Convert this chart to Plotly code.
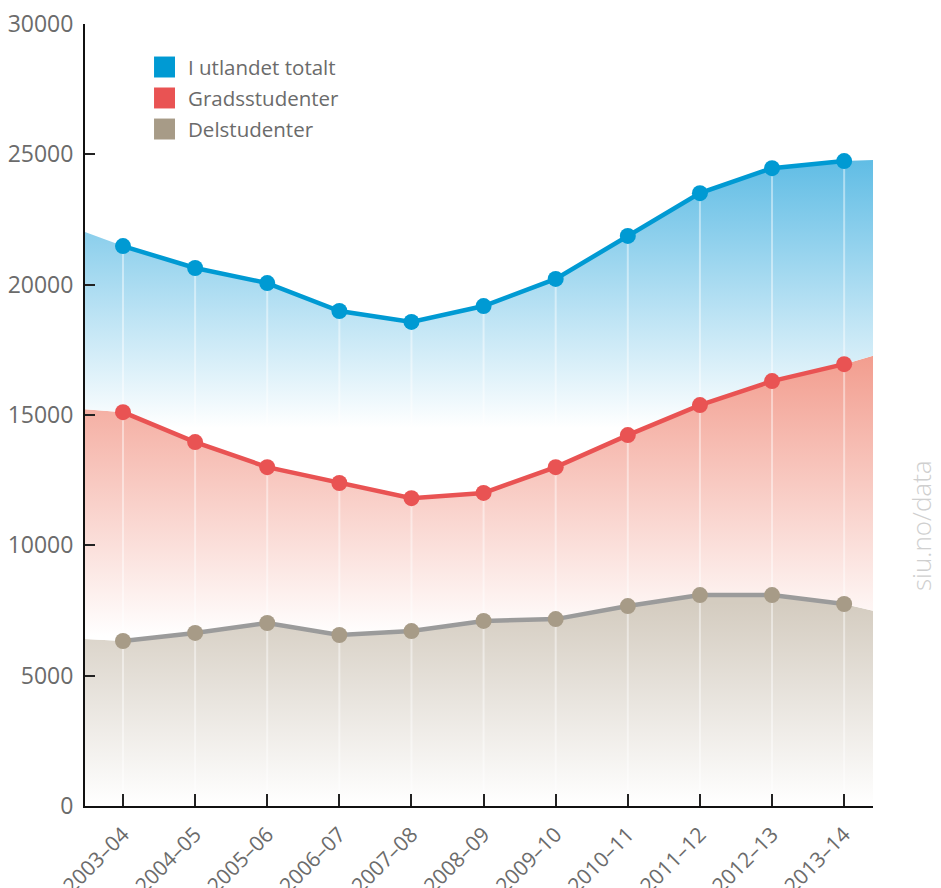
import plotly.graph_objects as go

# ---- data ----
categories = ["2003–04", "2004–05", "2005–06", "2006–07", "2007–08", "2008–09",
              "2009–10", "2010–11", "2011–12", "2012–13", "2013–14"]
utlandet_totalt = [21480, 20640, 20060, 18990, 18570, 19180, 20220, 21870, 23510, 24470, 24740]
gradsstudenter = [15110, 13960, 13000, 12390, 11810, 12010, 13000, 14230, 15380, 16300, 16950]
delstudenter = [6330, 6640, 7020, 6560, 6710, 7100, 7170, 7670, 8090, 8090, 7750]
# values of the shaded areas where they meet the left and right edges of the plot
area_edges_totalt = [22020, 24780]
area_edges_grad = [15220, 17270]
area_edges_del = [6410, 7490]
y_ticks = [0, 5000, 10000, 15000, 20000, 25000, 30000]
series_names = ["I utlandet totalt", "Gradsstudenter", "Delstudenter"]

# ---- style ----
BLUE = "#009ad3"
RED = "#e95353"
TAN = "#a79b87"
GREY_LINE = "#9b9b9b"
TEXT = "#6b6b6b"
FONT = "Open Sans"

X_LEFT, X_RIGHT = -0.527, 10.40
xs = list(range(len(categories)))
x_area = [X_LEFT] + xs + [X_RIGHT]

def area(vals, edges):
    return [edges[0]] + list(vals) + [edges[1]]

fig = go.Figure()

fig.add_trace(go.Scatter(
    x=x_area, y=area(delstudenter, area_edges_del), mode="lines",
    line=dict(width=0), fill="tozeroy",
    fillgradient=dict(type="vertical", start=0, stop=7800,
                      colorscale=[[0, "rgba(255,255,255,1)"], [1, "#d4ccc0"]]),
    hoverinfo="skip", showlegend=False))
fig.add_trace(go.Scatter(
    x=x_area, y=area(gradsstudenter, area_edges_grad), mode="lines",
    line=dict(width=0), fill="tonexty",
    fillgradient=dict(type="vertical", start=6500, stop=17500,
                      colorscale=[[0, "rgba(255,255,255,1)"], [1, "#f29b8c"]]),
    hoverinfo="skip", showlegend=False))
fig.add_trace(go.Scatter(
    x=x_area, y=area(utlandet_totalt, area_edges_totalt), mode="lines",
    line=dict(width=0), fill="tonexty",
    fillgradient=dict(type="vertical", start=14500, stop=25500,
                      colorscale=[[0, "rgba(255,255,255,1)"], [1, "#55b8e3"]]),
    hoverinfo="skip", showlegend=False))

# faint vertical guide lines under each top point
vx, vy = [], []
for i, v in enumerate(utlandet_totalt):
    vx += [i, i, None]
    vy += [0, v, None]
fig.add_trace(go.Scatter(x=vx, y=vy, mode="lines",
                         line=dict(color="rgba(255,255,255,0.45)", width=2),
                         hoverinfo="skip", showlegend=False))

for vals, lc, mc, name in [(delstudenter, GREY_LINE, TAN, series_names[2]),
                           (gradsstudenter, RED, RED, series_names[1]),
                           (utlandet_totalt, BLUE, BLUE, series_names[0])]:
    fig.add_trace(go.Scatter(
        x=xs, y=vals, mode="lines+markers", name=name,
        line=dict(color=lc, width=4.5),
        marker=dict(color=mc, size=16),
        showlegend=False))

# manual legend (squares + text)
leg_colors = [BLUE, RED, TAN]
leg_y = [0.945, 0.9054, 0.8657]
for c, yv, name in zip(leg_colors, leg_y, series_names):
    fig.add_shape(type="rect", xref="paper", yref="paper",
                  x0=0.0876, x1=0.1142, y0=yv - 0.0134, y1=yv + 0.0134,
                  fillcolor=c, line=dict(width=0))
    fig.add_annotation(xref="paper", yref="paper", x=0.1285, y=yv,
                       text=name, showarrow=False, xanchor="left", yanchor="middle",
                       font=dict(family=FONT, size=20.5, color=TEXT))

fig.add_annotation(xref="paper", yref="paper", x=1.061, y=0.358,
                   text="siu.no/data", showarrow=False, textangle=-90,
                   xanchor="center", yanchor="middle",
                   font=dict(family=FONT, size=26, color="#cfcfcf", weight=300))

# the page body adds an 8px offset, so the figure is sized to the visible area
fig.update_layout(
    width=933, height=880, autosize=False,
    margin=dict(l=77, r=68, t=16, b=82, autoexpand=False),
    plot_bgcolor="white", paper_bgcolor="white",
    font=dict(family=FONT, color=TEXT),
    xaxis=dict(range=[X_LEFT, X_RIGHT], tickmode="array", tickvals=xs,
               ticktext=categories, tickangle=-45, ticks="inside", ticklen=12,
               tickcolor="#222", tickwidth=2, showline=True, linecolor="#111",
               linewidth=2, showgrid=False, zeroline=False, automargin=False,
               ticklabelstandoff=6, ticklabeloverflow="allow",
               tickfont=dict(family=FONT, size=21, color=TEXT)),
    yaxis=dict(range=[0, 30000], tickmode="array", tickvals=y_ticks,
               ticktext=[str(t) for t in y_ticks], ticks="inside", ticklen=10,
               tickcolor="#222", tickwidth=2, showline=True, linecolor="#111",
               linewidth=2, showgrid=False, zeroline=False, automargin=False,
               ticklabelstandoff=5, ticklabeloverflow="allow",
               tickfont=dict(family=FONT, size=23, color=TEXT)),
)

fig.write_html("out.html")
